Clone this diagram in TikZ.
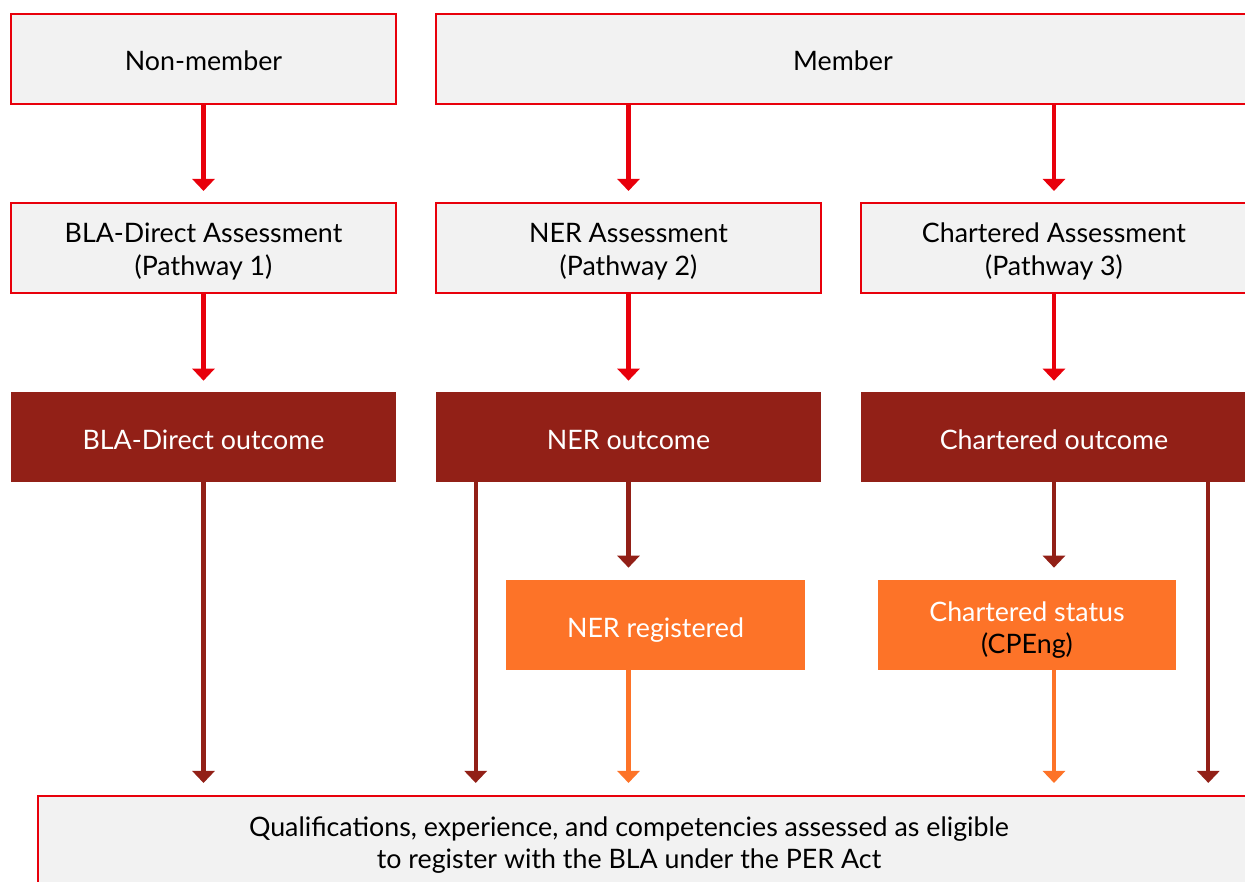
\documentclass[tikz,border=0pt]{standalone}
\usepackage{fontspec}
\setmainfont{Lato}
\usepackage{tikz}
\usetikzlibrary{arrows.meta,positioning}

\definecolor{boxred}{HTML}{E8000B}
\definecolor{boxgrey}{HTML}{F2F2F2}
\definecolor{outred}{HTML}{922017}
\definecolor{regorange}{HTML}{FD7328}

\begin{document}
\begin{tikzpicture}
    %[x=0.02cm,y=-0.02cm]
    [x=0.02cm,y=-0.02cm,font=\fontsize{15.25}{18.5}\selectfont,
     greybox/.style={rectangle,draw=boxred,line width=1.2pt,fill=boxgrey,
       minimum width=7.7cm,minimum height=1.8cm,align=center,inner sep=0pt},
     outbox/.style={rectangle,fill=outred,text=white,
       minimum width=7.7cm,minimum height=1.8cm,align=center,inner sep=0pt},
     regbox/.style={rectangle,fill=regorange,text=white,
       minimum width=5.98cm,minimum height=1.8cm,align=center,inner sep=0pt},
     oneline/.style={text height=1.14cm,text depth=0.66cm},
     twoline/.style={text height=1.45cm,text depth=0.35cm},
     redarr/.style={draw=boxred,line width=2.5pt,-{Triangle[width=0.44cm,length=0.24cm]},shorten >=0.22cm},
     outarr/.style={draw=outred,line width=2.3pt,-{Triangle[width=0.44cm,length=0.24cm]},shorten >=0.24cm},
     regarr/.style={draw=regorange,line width=2.3pt,-{Triangle[width=0.44cm,length=0.24cm]},shorten >=0.24cm}]
    \useasboundingbox (0,0) rectangle (1245,882);

    \node[greybox,oneline] (nnon) at (203.5,59) {Non-member};
    \node[greybox,oneline,minimum width=16.28cm] (nmem) at (843,59) {Member};

    \node[greybox,twoline] (nbla) at (203.5,248) {BLA-Direct Assessment\\(Pathway 1)};
    \node[greybox,twoline] (nner) at (628.5,248) {NER Assessment\\(Pathway 2)};
    \node[greybox,twoline,minimum width=7.72cm] (nchar) at (1054,248) {Chartered Assessment\\(Pathway 3)};

    \node[outbox,oneline] (obla) at (203.5,437) {BLA-Direct outcome};
    \node[outbox,oneline] (oner) at (628.5,437) {NER outcome};
    \node[outbox,oneline,minimum width=7.72cm] (ochar) at (1054,437) {Chartered outcome};

    \node[regbox,oneline,text height=1.15cm,text depth=0.65cm] (rner) at (655.5,625) {NER registered};
    \node[regbox,twoline,text height=1.48cm,text depth=0.32cm,minimum width=5.96cm] (rchar) at (1027,625) {Chartered status\\\textcolor{black}{(CPEng)}};

    \node[greybox,minimum width=24.24cm,minimum height=1.88cm] (nelig) at (644,843) {};
    \node[align=center] (telig) at (629,845) {Qualifications, experience, and competencies assessed as eligible\\to register with the BLA under the PER Act};

    \coordinate (lner) at ([xshift=0.8cm]oner.south west);
    \coordinate (rchr) at ([xshift=-0.78cm]ochar.south east);

    \path (nnon) edge[redarr] (nbla);
    \path (nmem.south -| nner.north) edge[redarr] (nner.north);
    \path (nmem.south -| nchar.north) edge[redarr] (nchar.north);

    \path (nbla) edge[redarr] (obla);
    \path (nner) edge[redarr] (oner);
    \path (nchar) edge[redarr] (ochar);

    \path (obla.south) edge[outarr] (obla.south |- nelig.north);
    \path (lner) edge[outarr] (lner |- nelig.north);
    \path (oner.south) edge[outarr] (oner.south |- rner.north);
    \path (ochar.south) edge[outarr] (ochar.south |- rchar.north);
    \path (rchr) edge[outarr] (rchr |- nelig.north);

    \path (oner.south |- rner.south) edge[regarr] (oner.south |- nelig.north);
    \path (ochar.south |- rchar.south) edge[regarr] (ochar.south |- nelig.north);

  \end{tikzpicture}
\end{document}
